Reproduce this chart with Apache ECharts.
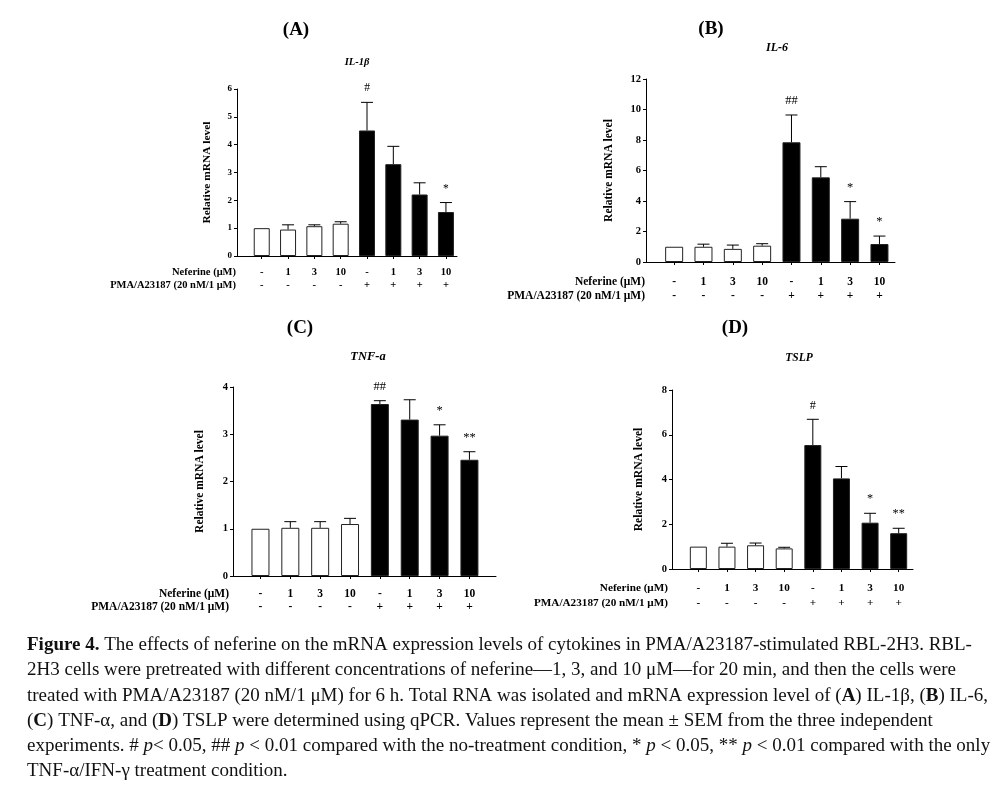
<!DOCTYPE html>
<html>
<head>
<meta charset="utf-8">
<title>Figure 4</title>
<script src="https://cdn.jsdelivr.net/npm/echarts@6/dist/echarts.min.js"></script>
<style>
html,body{margin:0;padding:0;background:#fff;}
#main{width:1007px;height:786px;}
</style>
</head>
<body>
<div id="main"></div>
<script>
var catIdx = [0, 1, 2, 3, 4, 5, 6, 7];
var neferineLbl = ['-', '1', '3', '10', '-', '1', '3', '10'];
var pmaLbl = ['-', '-', '-', '-', '+', '+', '+', '+'];

var il1bMean = [1.0, 0.95, 1.07, 1.16, 4.51, 3.30, 2.21, 1.58];
var il1bErr  = [0, 0.17, 0.05, 0.07, 1.01, 0.64, 0.42, 0.34];
var il1bSig  = ['', '', '', '', '#', '', '', '*'];

var il6Mean = [1.0, 1.0, 0.86, 1.07, 7.85, 5.55, 2.84, 1.18];
var il6Err  = [0, 0.17, 0.25, 0.13, 1.79, 0.70, 1.12, 0.52];
var il6Sig  = ['', '', '', '', '##', '', '*', '*'];

var tnfMean = [1.0, 1.02, 1.02, 1.10, 3.64, 3.31, 2.97, 2.46];
var tnfErr  = [0, 0.13, 0.13, 0.12, 0.07, 0.42, 0.23, 0.17];
var tnfSig  = ['', '', '', '', '##', '', '*', '**'];

var tslpMean = [1.0, 1.0, 1.06, 0.92, 5.54, 4.05, 2.07, 1.60];
var tslpErr  = [0, 0.15, 0.10, 0.05, 1.15, 0.53, 0.42, 0.22];
var tslpSig  = ['', '', '', '', '#', '', '*', '**'];

var serif = '"Liberation Serif", "Times New Roman", serif';

// one entry per panel (layout only, values come from the arrays above)
var panels = [
	{tag:'(A)', gene:'IL-1\u03b2', mean:il1bMean, err:il1bErr, sig:il1bSig, max:6, step:1,
	 left:237, top:89, width:220, height:167, xmin:-0.94, xmax:7.42, barW:16,
	 tickFs:9, lblFs:10.5, nameFs:11.4, geneFs:10.5, nameGap:24,
	 tagXY:[296,30], geneXY:[357,62], rowX:236, row1:272, row2:285},
	{tag:'(B)', gene:'IL-6', mean:il6Mean, err:il6Err, sig:il6Sig, max:12, step:2,
	 left:646, top:79, width:249, height:183, xmin:-0.96, xmax:7.53, barW:18,
	 tickFs:10.5, lblFs:11.5, nameFs:11.5, geneFs:12, nameGap:31,
	 tagXY:[711,29], geneXY:[777,48], rowX:645, row1:282, row2:296},
	{tag:'(C)', gene:'TNF-a', mean:tnfMean, err:tnfErr, sig:tnfSig, max:4, step:1,
	 left:233, top:387, width:263, height:189, xmin:-0.92, xmax:7.89, barW:18,
	 tickFs:10.5, lblFs:11.5, nameFs:11.5, geneFs:12.5, nameGap:27,
	 tagXY:[300,328], geneXY:[368,357], rowX:229, row1:594, row2:607},
	{tag:'(D)', gene:'TSLP', mean:tslpMean, err:tslpErr, sig:tslpSig, max:8, step:2,
	 left:672, top:390, width:241, height:179, xmin:-0.92, xmax:7.5, barW:17,
	 tickFs:10.5, lblFs:11.2, nameFs:11.6, geneFs:11.5, nameGap:27,
	 tagXY:[735,328], geneXY:[799,358], rowX:668, row1:588, row2:603}
];

var captionLines = [
	'{b|Figure 4.} The effects of neferine on the mRNA expression levels of cytokines in PMA/A23187-stimulated RBL-2H3. RBL-',
	'2H3 cells were pretreated with different concentrations of neferine\u20141, 3, and 10 \u03bcM\u2014for 20 min, and then the cells were',
	'treated with PMA/A23187 (20 nM/1 \u03bcM) for 6 h. Total RNA was isolated and mRNA expression level of ({b|A}) IL-1\u03b2, ({b|B}) IL-6,',
	'({b|C}) TNF-\u03b1, and ({b|D}) TSLP were determined using qPCR. Values represent the mean \u00b1 SEM from the three independent',
	'experiments. # {i|p}< 0.05, ## {i|p} < 0.01 compared with the no-treatment condition, * {i|p} < 0.05, ** {i|p} < 0.01 compared with the only',
	'TNF-\u03b1/IFN-\u03b3 treatment condition.'
];
var capSize = 19;

function errRender(p){
	return function(params, api){
		var i = api.value(0);
		var m = api.value(1);
		var e = api.value(2);
		var p0 = api.coord([i, m]);
		var p1 = api.coord([i, m + e]);
		var kids = [];
		if(e > 0){
			kids.push({type:'line', shape:{x1:p0[0], y1:p0[1], x2:p1[0], y2:p1[1]}, style:{stroke:'#000', lineWidth:1}});
			kids.push({type:'line', shape:{x1:p1[0]-6, y1:p1[1], x2:p1[0]+6, y2:p1[1]}, style:{stroke:'#000', lineWidth:1}});
		}
		var s = p.sig[params.dataIndex];
		if(s){
			kids.push({type:'text', style:{text:s, x:p1[0], y:p1[1]-14, align:'center', verticalAlign:'middle',
				fontFamily:serif, fontSize:p.lblFs+1, fill:'#000'}});
		}
		return {type:'group', children:kids};
	};
}

var grids = [], xAxes = [], yAxes = [], series = [], graphics = [];
for(var k = 0; k < panels.length; k++){
	var p = panels[k];
	grids.push({left:p.left, top:p.top, width:p.width, height:p.height});
	xAxes.push({
		type:'value', gridIndex:k, min:p.xmin, max:p.xmax,
		axisLine:{show:true, onZero:false, lineStyle:{color:'#000', width:1}},
		axisTick:{show:true, customValues:catIdx, length:3, lineStyle:{color:'#000'}},
		axisLabel:{
			customValues:catIdx, margin:p.row1 - (p.top + p.height) - (p.row2 - p.row1)/2,
			lineHeight:p.row2 - p.row1, fontFamily:serif, fontWeight:'bold', fontSize:p.lblFs, color:'#000',
			formatter:function(v){
				var i = Math.round(v);
				return neferineLbl[i] + '\n' + pmaLbl[i];
			}
		},
		splitLine:{show:false}
	});
	yAxes.push({
		type:'value', gridIndex:k, min:0, max:p.max, interval:p.step,
		name:'Relative mRNA level', nameLocation:'middle', nameGap:p.nameGap, nameRotate:90,
		nameTextStyle:{fontFamily:serif, fontWeight:'bold', fontSize:p.nameFs, color:'#000'},
		axisLine:{show:true, onZero:false, lineStyle:{color:'#000', width:1}},
		axisTick:{show:true, length:3, lineStyle:{color:'#000'}},
		axisLabel:{fontFamily:serif, fontWeight:'bold', fontSize:p.tickFs, color:'#000', margin:5},
		splitLine:{show:false}
	});
	var barData = [], errData = [];
	for(var i = 0; i < catIdx.length; i++){
		barData.push({value:[catIdx[i], p.mean[i]], itemStyle:{color:(i < 4 ? '#fff' : '#000')}});
		errData.push([catIdx[i], p.mean[i], p.err[i]]);
	}
	series.push({
		type:'bar', xAxisIndex:k, yAxisIndex:k, barWidth:p.barW, data:barData,
		itemStyle:{borderColor:'#222', borderWidth:1}, animation:false
	});
	series.push({
		type:'custom', xAxisIndex:k, yAxisIndex:k, data:errData, renderItem:errRender(p),
		clip:false, z:5, animation:false
	});
	graphics.push({type:'text', x:p.tagXY[0], y:p.tagXY[1],
		style:{text:p.tag, fontFamily:serif, fontWeight:'bold', fontSize:19, fill:'#000', align:'center', verticalAlign:'middle'}});
	graphics.push({type:'text', x:p.geneXY[0], y:p.geneXY[1],
		style:{text:p.gene, fontFamily:serif, fontWeight:'bold', fontStyle:'italic', fontSize:p.geneFs, fill:'#000', align:'center', verticalAlign:'middle'}});
	graphics.push({type:'text', x:p.rowX, y:p.row1,
		style:{text:'Neferine (\u03bcM)', fontFamily:serif, fontWeight:'bold', fontSize:p.lblFs, fill:'#000', align:'right', verticalAlign:'middle'}});
	graphics.push({type:'text', x:p.rowX, y:p.row2,
		style:{text:'PMA/A23187 (20 nM/1 \u03bcM)', fontFamily:serif, fontWeight:'bold', fontSize:p.lblFs, fill:'#000', align:'right', verticalAlign:'middle'}});
}

for(var j = 0; j < captionLines.length; j++){
	graphics.push({type:'text', x:27, y:645 + j*25.3,
		style:{text:captionLines[j], fontFamily:serif, fontSize:capSize, fill:'#111', verticalAlign:'middle',
			rich:{
				b:{fontFamily:serif, fontSize:capSize, fontWeight:'bold', fill:'#111'},
				i:{fontFamily:serif, fontSize:capSize, fontStyle:'italic', fill:'#111'}
			}}});
}

var myChart = echarts.init(document.getElementById('main'));
myChart.setOption({
	animation:false,
	backgroundColor:'#fff',
	grid:grids,
	xAxis:xAxes,
	yAxis:yAxes,
	series:series,
	graphic:graphics
});
</script>
</body>
</html>
